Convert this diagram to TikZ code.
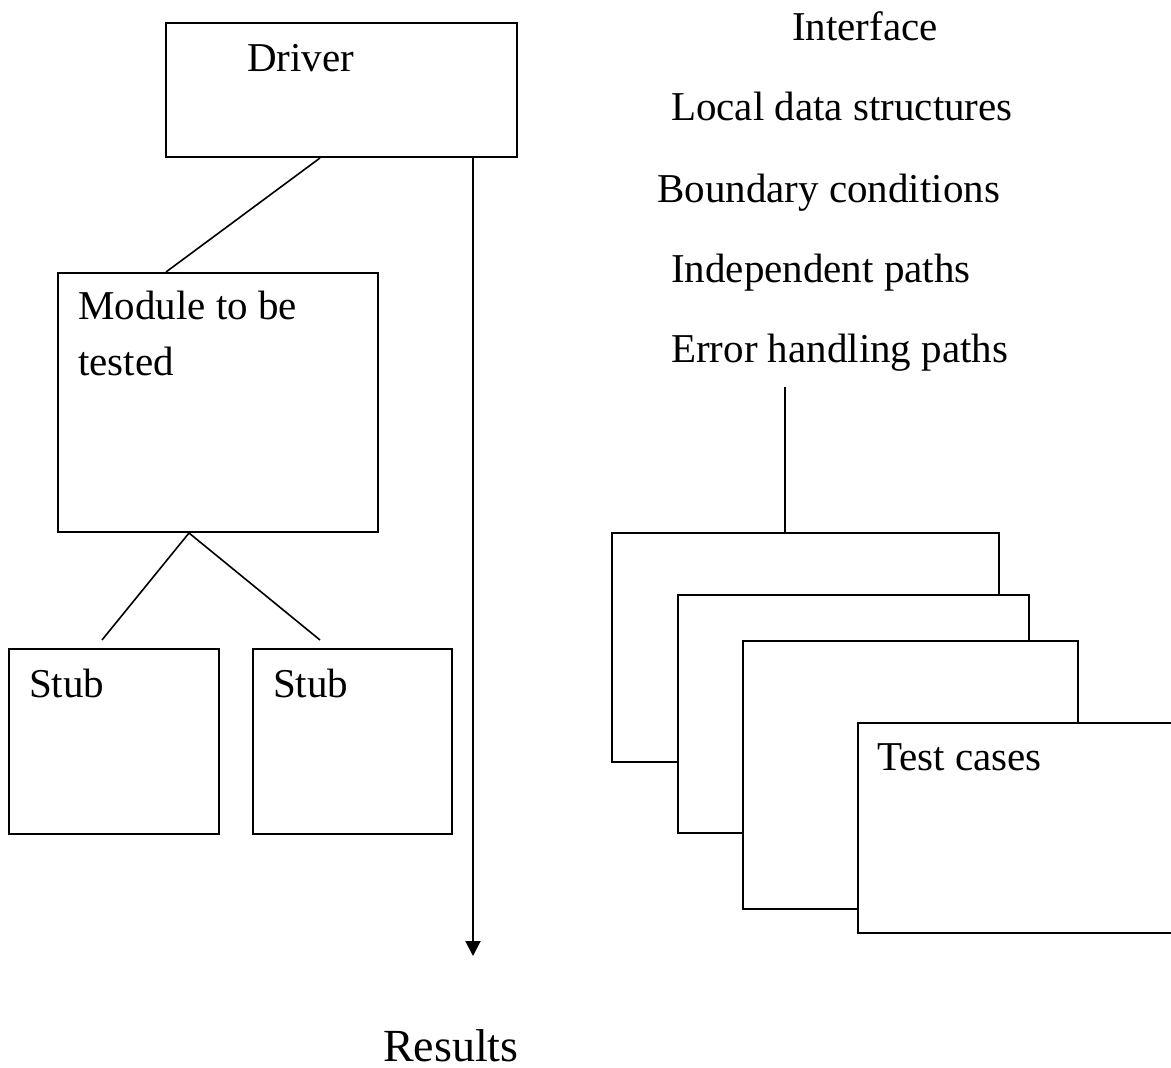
\documentclass[tikz,border=0pt]{standalone}
\usepackage{fontspec}
\setmainfont{Liberation Serif}
\usetikzlibrary{arrows.meta,calc}

\begin{document}
\begin{tikzpicture}[x=1pt,y=-1pt,
  box/.style={draw=black, fill=white, rectangle, line width=2pt, inner sep=0pt, anchor=north west},
  txt/.style={anchor=base west, inner sep=0pt, font=\fontsize{41}{48}\selectfont},
  bigtxt/.style={anchor=base west, inner sep=0pt, font=\fontsize{46}{54}\selectfont},
  link/.style={draw=black, line width=1.6pt},
  flow/.style={draw=black, line width=2pt, -{Triangle[length=15pt,width=15pt]}}]

  \useasboundingbox (0,0) rectangle (1171,1068);
  \fill[white] (0,0) rectangle (1171,1068);
  \clip (0,0) rectangle (1171,1068);

  % driver, module under test and its stubs
  \node[box, minimum width=351pt, minimum height=134pt] (driver) at (165,22) {};
  \node[box, minimum width=320pt, minimum height=259pt] (module) at (57,272) {};
  \node[box, minimum width=210pt, minimum height=185pt] (stubA) at (8,648) {};
  \node[box, minimum width=199pt, minimum height=185pt] (stubB) at (252,648) {};

  \node[txt] (driverT) at (247,71) {Driver};
  \node[txt] (moduleT1) at (78,319) {Module to be};
  \node[txt] (moduleT2) at (78,375) {tested};
  \node[txt] (stubAT) at (29,697) {Stub};
  \node[txt] (stubBT) at (273,697) {Stub};

  % connectors of the test harness
  \draw[link] ($(driver.south west)+(155,0)$) -- ($(module.north west)+(109,0)$);
  \coordinate (stubAend) at (102,640);
  \coordinate (stubBend) at (320,640);
  \coordinate (fork) at ($(module.south west)+(132,0)$);
  \draw[link] (fork) -- (stubAend);
  \draw[link] (fork) -- (stubBend);

  \coordinate (resultsEnd) at (473,956);
  \draw[flow] (driver.south west -| resultsEnd) -- (resultsEnd);
  \node[bigtxt] (results) at (383,1061) {Results};

  % aspects covered by the test cases
  \node[txt] (aspect1) at (792,40) {Interface};
  \node[txt] (aspect2) at (671,120) {Local data structures};
  \node[txt] (aspect3) at (657,202) {Boundary conditions};
  \node[txt] (aspect4) at (671,282) {Independent paths};
  \node[txt] (aspect5) at (671,362) {Error handling paths};

  % stack of test case sheets
  \node[box, minimum width=387pt, minimum height=229pt] (case1) at (611,532) {};
  \node[box, minimum width=351pt, minimum height=238pt] (case2) at (677,594) {};
  \node[box, minimum width=335pt, minimum height=268pt] (case3) at (742,640) {};
  \node[box, minimum width=360pt, minimum height=210pt] (case4) at (857,722) {};
  \node[txt] (caseT) at (877,770) {Test cases};

  \coordinate (aspectsEnd) at (785,387);
  \draw[link] (aspectsEnd) -- (aspectsEnd |- case1.north);
\end{tikzpicture}
\end{document}
